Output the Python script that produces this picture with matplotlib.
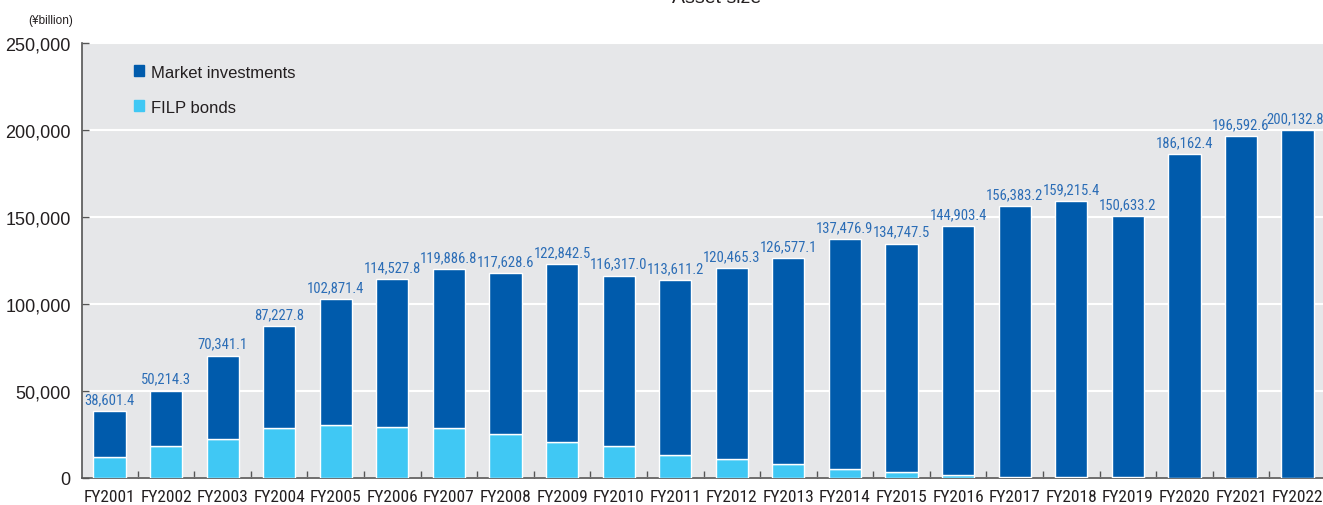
import numpy as np
import matplotlib
matplotlib.use("Agg")
import matplotlib.pyplot as plt
from matplotlib.patches import Patch

# data (¥billion)
years = ["FY2001", "FY2002", "FY2003", "FY2004", "FY2005", "FY2006", "FY2007", "FY2008",
         "FY2009", "FY2010", "FY2011", "FY2012", "FY2013", "FY2014", "FY2015", "FY2016",
         "FY2017", "FY2018", "FY2019", "FY2020", "FY2021", "FY2022"]
totals = [38601.4, 50214.3, 70341.1, 87227.8, 102871.4, 114527.8, 119886.8, 117628.6,
          122842.5, 116317.0, 113611.2, 120465.3, 126577.1, 137476.9, 134747.5, 144903.4,
          156383.2, 159215.4, 150633.2, 186162.4, 196592.6, 200132.8]
filp_bonds = [12000, 18500, 22200, 28700, 30600, 29400, 28700, 25000,
              20500, 18200, 13200, 10900, 8000, 5300, 3400, 1500,
              600, 600, 500, 0, 0, 0]
market = [t - f for t, f in zip(totals, filp_bonds)]

dark_blue = "#005BAC"
light_blue = "#40C8F4"
label_blue = "#2B6DB6"
text_col = "#231F20"

plt.rcParams['font.family'] = ['Liberation Sans', 'DejaVu Sans']
narrow = ['Roboto Condensed', 'Liberation Sans', 'DejaVu Sans']

fig = plt.figure(figsize=(13.23, 5.06), dpi=100)
ax = fig.add_axes([0.0618, 0.0534, 0.9382, 0.8596])
ax.set_facecolor("#E6E7E9")

x = np.arange(len(years))
w = 0.57
ax.bar(x, filp_bonds, w, color=light_blue, edgecolor="white", linewidth=1.0, zorder=3)
ax.bar(x, market, w, bottom=filp_bonds, color=dark_blue, edgecolor="white",
       linewidth=1.0, zorder=3)

# value labels above each bar (last one nudged so it stays inside the figure)
for xi, t in zip(x, totals):
    dx = -2 if xi == x[-1] else 0
    ax.annotate("{:,.1f}".format(t), (xi, t), xytext=(dx, 3.5), textcoords="offset points",
                ha="center", va="bottom", color=label_blue, fontsize=10.5,
                family=narrow, zorder=4)

ax.set_xlim(-0.49, 21.45)
ax.set_ylim(0, 250000)
ax.set_yticks(range(0, 250001, 50000))
ax.set_yticklabels(["{:,}".format(v) for v in range(0, 250001, 50000)],
                   fontsize=13, color=text_col)
ax.yaxis.grid(True, color="white", linewidth=1.5, zorder=1)
ax.set_axisbelow(True)

ax.set_xticks(x)
ax.set_xticklabels(years, fontsize=12.5, color=text_col, family=narrow)
ax.set_xticks(x[:-1] + 0.5, minor=True)
ax.tick_params(axis="x", which="major", length=0, pad=8)
ax.tick_params(axis="x", which="minor", direction="in", length=5, color="#555555", width=1)
ax.tick_params(axis="y", direction="in", length=5, color="#555555", width=1, pad=8)

for s in ["top", "right"]:
    ax.spines[s].set_visible(False)
for s in ["left", "bottom"]:
    ax.spines[s].set_color("#555555")
    ax.spines[s].set_linewidth(1.2)

handles = [Patch(color=dark_blue, label="Market investments"),
           Patch(color=light_blue, label="FILP bonds")]
ax.legend(handles=handles, loc="upper left", bbox_to_anchor=(0.03, 0.985), frameon=False,
          fontsize=12, handlelength=0.6, handleheight=0.6, handletextpad=0.4,
          labelspacing=1.2, labelcolor=text_col)

fig.text(0.038, 0.958, "(¥billion)", fontsize=8.5, ha="center", va="center", color=text_col)
fig.text(0.542, 1.003, "Asset size", fontsize=14, ha="center", va="center", color=text_col)

fig.savefig("out.png", dpi=100)
